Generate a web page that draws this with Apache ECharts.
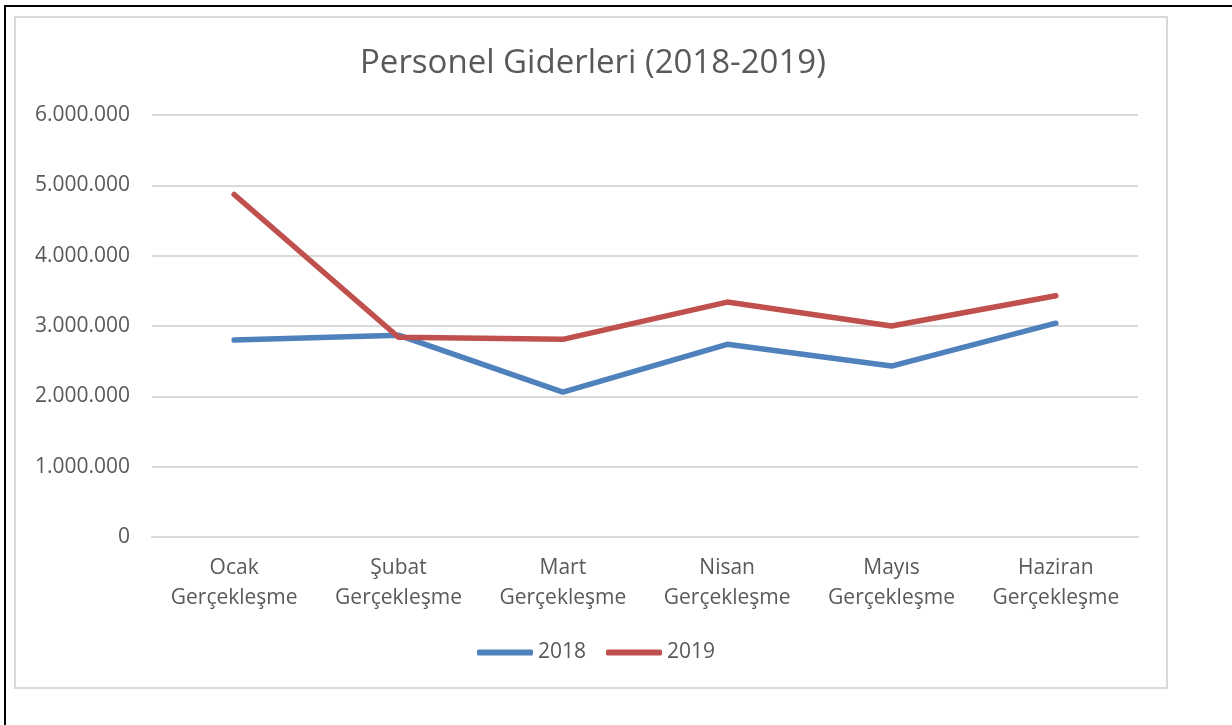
<!DOCTYPE html>
<html>
  <head>
    <meta charset="UTF-8" />
    <title>Personel Giderleri</title>
    <script src="https://cdn.jsdelivr.net/npm/echarts@6.0.0/dist/echarts.min.js"></script>
    <style>
      body { margin: 0; background: #fff; }
    </style>
  </head>
  <body>
    <div id="chart" style="width: 1232px; height: 725px"></div>
  </body>
  <script>
    const months = ["Ocak", "Şubat", "Mart", "Nisan", "Mayıs", "Haziran"];
    const values2018 = [2800000, 2870000, 2060000, 2740000, 2430000, 3040000];
    const values2019 = [4870000, 2840000, 2810000, 3340000, 3000000, 3430000];
    const yTicks = [0, 1000000, 2000000, 3000000, 4000000, 5000000, 6000000];

    const font = "'Open Sans', 'Noto Sans', sans-serif";
    let myChart = echarts.init(document.getElementById("chart"));

    // format 1000000 -> 1.000.000
    function dots(v) {
      return String(v).replace(/\B(?=(\d{3})+(?!\d))/g, ".");
    }

    myChart.setOption({
      animation: false,
      title: {
        text: "Personel Giderleri (2018-2019)",
        left: 355,
        top: 42,
        textStyle: { fontFamily: font, fontSize: 33, fontWeight: "normal", color: "#595959" },
      },
      graphic: [
        // outer black frame (only top and left show)
        { type: "rect", shape: { x: 5, y: 6, width: 1240, height: 740 }, style: { fill: "none", stroke: "#000", lineWidth: 2 } },
        // chart area frame
        { type: "rect", shape: { x: 15, y: 17, width: 1152, height: 671 }, style: { fill: "none", stroke: "#d9d9d9", lineWidth: 2 } },
      ],
      legend: {
        top: 637,
        left: 472,
        icon: "roundRect",
        itemWidth: 56,
        itemHeight: 6,
        itemGap: 20,
        textStyle: { fontFamily: font, fontSize: 21, color: "#595959" },
        data: ["2018", "2019"],
      },
      grid: { left: 152, right: 94, top: 115, bottom: 188 },
      xAxis: {
        type: "category",
        data: months,
        axisTick: { show: false },
        axisLine: { lineStyle: { color: "#d9d9d9", width: 2 } },
        axisLabel: {
          interval: 0,
          margin: 16,
          lineHeight: 30,
          fontFamily: font,
          fontSize: 21,
          color: "#595959",
          formatter: (v) => v + "\nGerçekleşme",
        },
      },
      yAxis: {
        type: "value",
        min: yTicks[0],
        max: yTicks[yTicks.length - 1],
        interval: 1000000,
        axisLabel: { margin: 22, fontFamily: font, fontSize: 21, color: "#595959", formatter: dots },
        splitLine: { lineStyle: { color: "#d9d9d9", width: 2 } },
      },
      series: [
        {
          name: "2018",
          type: "line",
          data: values2018,
          symbol: "none",
          itemStyle: { color: "#4f81bd" },
          lineStyle: { color: "#4f81bd", width: 5.5, cap: "round", join: "round" },
        },
        {
          name: "2019",
          type: "line",
          data: values2019,
          symbol: "none",
          itemStyle: { color: "#c0504d" },
          lineStyle: { color: "#c0504d", width: 5.5, cap: "round", join: "round" },
        },
      ],
    });
  </script>
</html>
